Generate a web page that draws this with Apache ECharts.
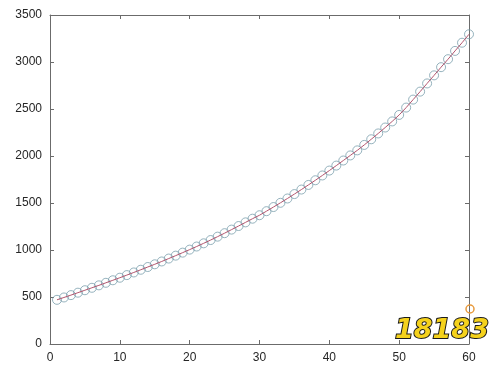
<!DOCTYPE html>
<html>
<head>
<meta charset="utf-8">
<script src="https://cdn.jsdelivr.net/npm/echarts@6/dist/echarts.min.js"></script>
<style>html,body{margin:0;padding:0;background:#fff}#c{width:500px;height:368px}</style>
</head>
<body>
<div id="c"></div>
<script>
const xValues = [1,2,3,4,5,6,7,8,9,10,11,12,13,14,15,16,17,18,19,20,21,22,23,24,25,26,27,28,29,30,31,32,33,34,35,36,37,38,39,40,41,42,43,44,45,46,47,48,49,50,51,52,53,54,55,56,57,58,59,60];
const yValues = [470,495,520,546,572,598,624,651,678,705,733,761,790,819,848,878,909,940,972,1004,1037,1071,1106,1142,1179,1217,1255,1294,1333,1370,1413,1457,1502,1548,1595,1643,1692,1742,1793,1845,1898,1952,2006,2060,2118,2178,2240,2303,2368,2437,2515,2600,2685,2772,2858,2945,3030,3118,3205,3295];
const xTicks = [0,10,20,30,40,50,60];
const yTicks = [0,500,1000,1500,2000,2500,3000,3500];

const pts = xValues.map((x,i)=>[x,yValues[i]]);
const axisCol = '#6b6b6b';
const lbl = {color:'#262626', fontSize:12, fontFamily:'Liberation Sans, Arial, sans-serif', formatter:v=>String(v)};
function ax(pos, showLabel, ticks){
  return {type:'value', min:ticks[0], max:ticks[ticks.length-1], interval:ticks[1]-ticks[0], position:pos,
    axisLine:{show:true,onZero:false,lineStyle:{color:axisCol,width:1}},
    axisTick:{show:true,inside:true,length:4,lineStyle:{color:axisCol}},
    axisLabel:showLabel?Object.assign({margin:8},lbl):{show:false},
    splitLine:{show:false}};
}
const chart = echarts.init(document.getElementById('c'));
chart.setOption({
  animation:false,
  grid:{left:50, top:15, right:31, bottom:24},
  xAxis:[ax('bottom',true,xTicks), ax('top',false,xTicks)],
  yAxis:[ax('left',true,yTicks), ax('right',false,yTicks)],
  series:[
    {type:'scatter', data:pts, symbol:'circle', symbolSize:9,
     itemStyle:{color:'rgba(255,255,255,0)', borderColor:'#7a9fad', borderWidth:1}},
    {type:'line', data:pts, showSymbol:false, symbol:'none',
     lineStyle:{color:'#b2556e', width:1}}
  ],
  graphic:[
    {type:'text', left:394, top:316, z:100,
     style:{text:'18183', fill:'#f5d21c', stroke:'#1a1a1a', lineWidth:2, font:'italic bold 27px DejaVu Sans'}},
    {type:'circle', shape:{cx:470, cy:309, r:4}, z:99,
     style:{fill:'none', stroke:'#e89a3c', lineWidth:1.5}}
  ]
});
</script>
</body>
</html>
